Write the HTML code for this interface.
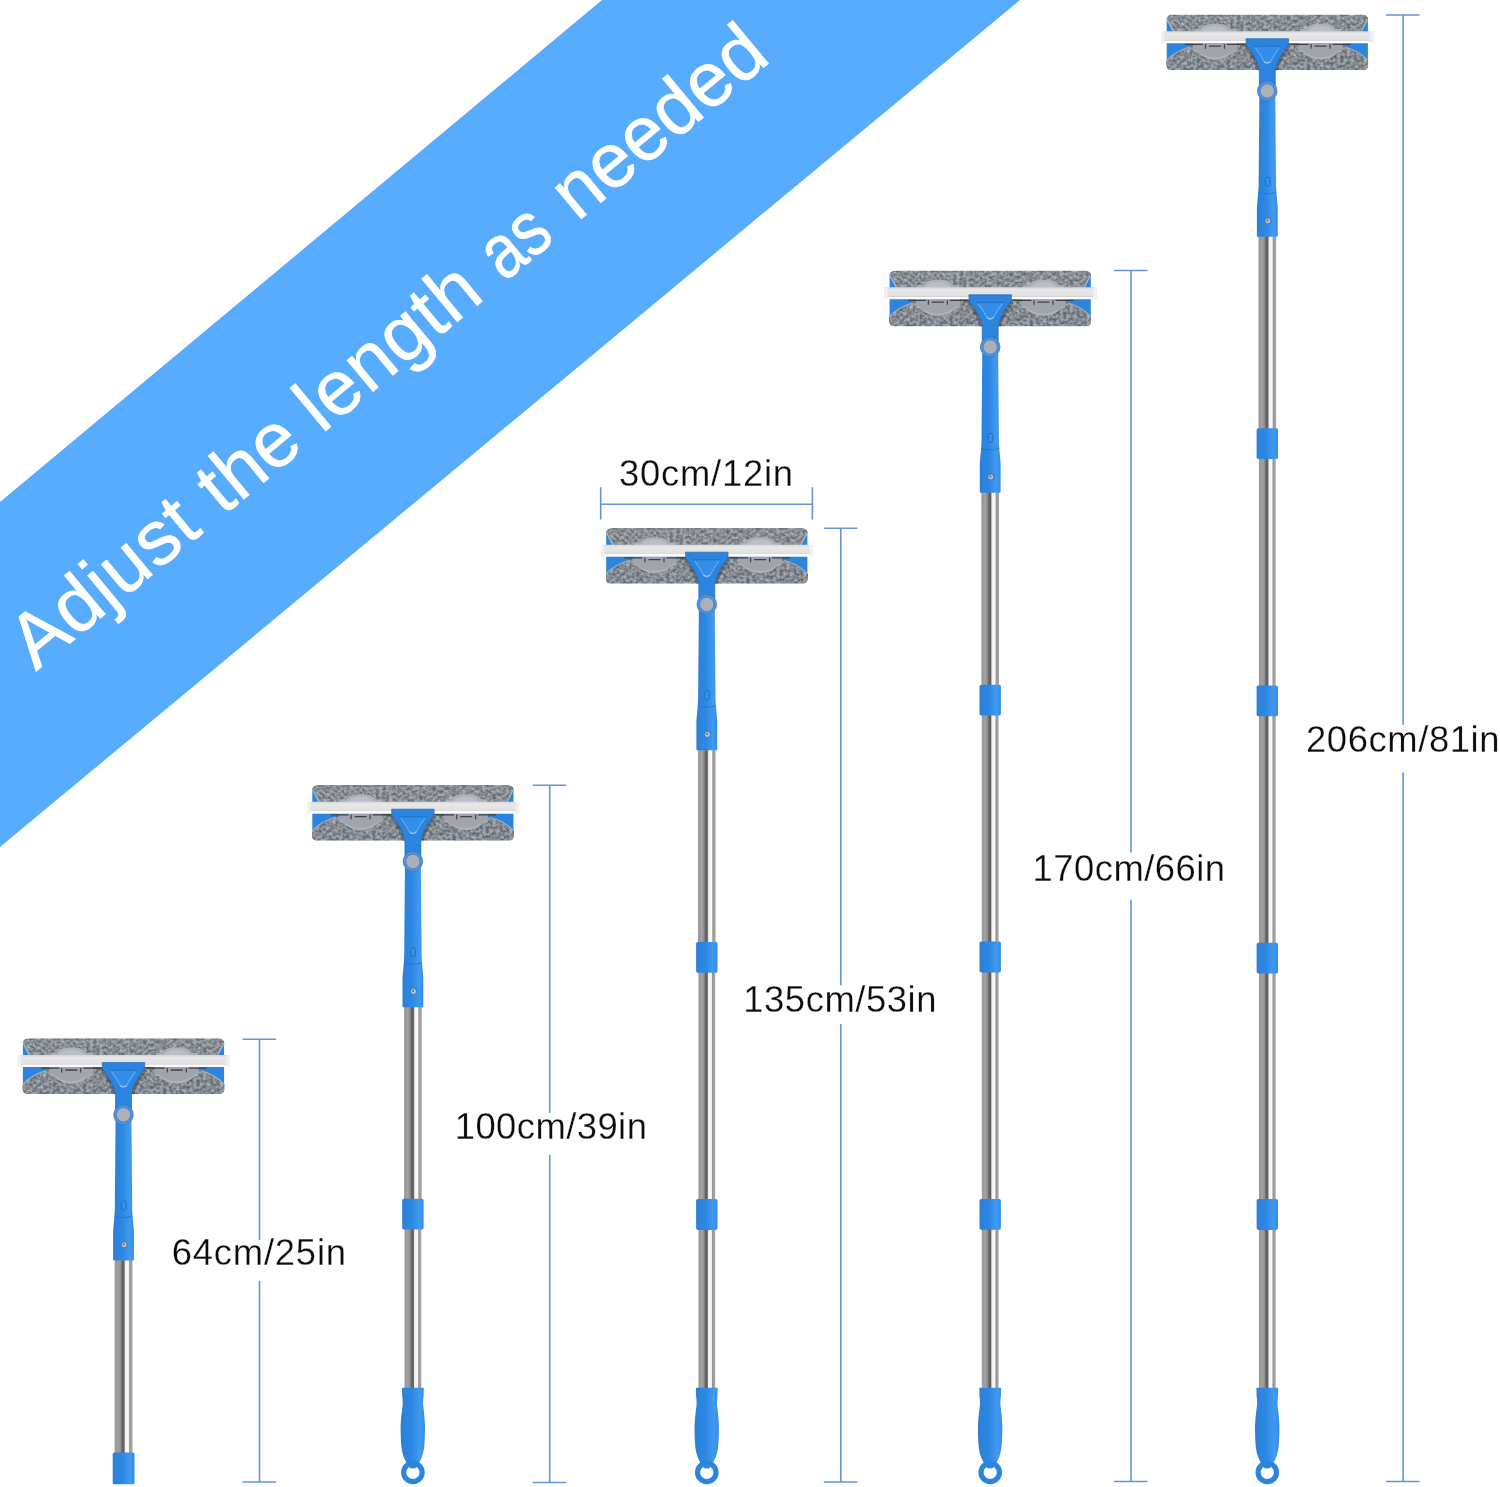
<!DOCTYPE html>
<html lang="en">
<head>
<meta charset="utf-8">
<title>Adjust the length as needed</title>
<style>
html,body{margin:0;padding:0;background:#fff;}
body{width:1500px;height:1487px;overflow:hidden;position:relative;}
svg{display:block;position:absolute;left:0;top:0;}
.lbl{font-family:"Liberation Sans","DejaVu Sans",sans-serif;font-size:36.4px;fill:#0c0c0c;stroke:#ffffff;stroke-width:0.28px;}
.ban{font-family:"Liberation Sans","DejaVu Sans",sans-serif;font-size:77px;fill:#ffffff;stroke:#ffffff;stroke-width:0.7px;}
.dl{stroke:#6595d5;stroke-width:1.6;fill:none;}
</style>
</head>
<body>
<svg width="1500" height="1487" viewBox="0 0 1500 1487">
<defs>
<linearGradient id="silver" x1="0" y1="0" x2="1" y2="0">
<stop offset="0" stop-color="#a2a2a2"/>
<stop offset="0.07" stop-color="#989898"/>
<stop offset="0.2" stop-color="#a3a3a3"/>
<stop offset="0.34" stop-color="#8e8e8e"/>
<stop offset="0.42" stop-color="#646464"/>
<stop offset="0.53" stop-color="#606060"/>
<stop offset="0.6" stop-color="#f0f0f0"/>
<stop offset="0.77" stop-color="#fbfbfb"/>
<stop offset="0.84" stop-color="#969696"/>
<stop offset="1" stop-color="#a9a9a9"/>
</linearGradient>
<linearGradient id="blueH" x1="0" y1="0" x2="1" y2="0">
<stop offset="0" stop-color="#2a80d8"/>
<stop offset="0.45" stop-color="#2d88e3"/>
<stop offset="0.8" stop-color="#429aee"/>
<stop offset="1" stop-color="#338be4"/>
</linearGradient>
<linearGradient id="blade" x1="0" y1="0" x2="0" y2="1">
<stop offset="0" stop-color="#d6d6d6"/>
<stop offset="0.2" stop-color="#e8e8e8"/>
<stop offset="0.72" stop-color="#e1e1e1"/>
<stop offset="0.76" stop-color="#cfcfcf"/>
<stop offset="0.82" stop-color="#fdfdfd"/>
<stop offset="1" stop-color="#f6f6f6"/>
</linearGradient>
<filter id="fiber" x="0" y="0" width="100%" height="100%" color-interpolation-filters="sRGB">
<feTurbulence type="fractalNoise" baseFrequency="0.3 0.33" numOctaves="3" seed="11" result="n"/>
<feColorMatrix in="n" type="matrix" values="1 0 0 0 0  1 0 0 0 0  1 0 0 0 0  0 0 0 0 1" result="g"/>
<feComposite in="SourceGraphic" in2="g" operator="arithmetic" k1="0" k2="1" k3="0.54" k4="-0.26" result="m"/>
<feComposite in="m" in2="SourceGraphic" operator="in"/>
</filter>

<g id="clip">
<path d="M-20.8,17.8 L-20.8,15.4 L-14.6,15.2 Q-12,10.4 -5,10 L5,10 Q12,10.4 14.6,15.2 L20.8,15.4 L20.8,17.8 Z" fill="#adb1b9"/>
<path d="M-13,17.5 Q-9.5,12.2 0,11.8 Q9.5,12.2 13,17.5 Z" fill="#babec6"/>
<path d="M-22,29.3 L22,29.3 L22,37.4 L17.5,38.4 Q10,45.6 0,45.6 Q-10,45.6 -17.5,38.4 L-22,37.4 Z" fill="#a0a4ad"/>
<path d="M-19.5,36 Q-10,43.4 0,43.4 Q10,43.4 19.5,36 L22,37.4 L17.5,38.4 Q10,45.6 0,45.6 Q-10,45.6 -17.5,38.4 L-22,37.4 Z" fill="#aeb2bb"/>
<path d="M-30,30.4 H-12 M12,30.4 H30 M-6,32.2 H6" stroke="#3c4047" stroke-width="1.3" fill="none"/>
<path d="M-9.5,30.2 V34.8 M9.5,30.2 V34.8" stroke="#454950" stroke-width="1.3" fill="none"/>
</g>

<g id="head">
<rect x="-100.6" y="3" width="201.2" height="51" rx="2" fill="#2c84dc"/>
<g filter="url(#fiber)">
<path d="M-95.6,0.8 L95.6,0.8 Q100.2,1.1 100.7,5 L94,18 L-94,18 L-100.7,5 Q-100.2,1.1 -95.6,0.8 Z" fill="#868b91"/>
<path d="M-100.9,46.5 Q-91,36.5 -77,32.6 L-70,29.6 L70,29.6 L77,32.6 Q91,36.5 100.9,46.5 L100.9,51.8 Q100.6,56 96.4,56.2 L-96.4,56.2 Q-100.6,56 -100.9,51.8 Z" fill="#83888e"/>
</g>
<path d="M-100.4,5.2 L-93.8,17.8 M100.4,5.2 L93.8,17.8" stroke="#aab4c2" stroke-width="1.4" fill="none"/>
<path d="M-100.7,46.3 Q-91,36.3 -77,32.8 M100.7,46.3 Q91,36.3 77,32.8" stroke="#9fb0c6" stroke-width="1.1" fill="none"/>
<path d="M-72,30.1 H72" stroke="#53575d" stroke-width="1.4" fill="none"/>
<use href="#clip" x="-52.3"/>
<use href="#clip" x="53.3"/>
<rect x="-105.9" y="17.3" width="212.2" height="12" rx="1.2" fill="url(#blade)"/>
<rect x="-105.9" y="17.3" width="3.2" height="12" rx="1" fill="#f1f1f1"/>
<rect x="103.1" y="17.3" width="3.2" height="12" rx="1" fill="#f1f1f1"/>
<path d="M-21,31 C-14.2,40 -9.7,47 -8,56.2 M21,31 C14.2,40 9.7,47 8,56.2" stroke="#1c222b" stroke-opacity="0.33" stroke-width="5.5" fill="none"/>
<path d="M-21.3,24.8 L21.3,24.8 L21,31 C14.2,40 9.7,47 8,57.3 L7.9,72 L-7.9,72 L-8,57.3 C-9.7,47 -14.2,40 -21,31 Z" fill="#2b84dd" stroke="#2468b4" stroke-width="0.7"/>
<path d="M-13.2,32.6 L13.2,32.6 Q7.4,40 3.6,47 Q0,50.8 -3.6,47 Q-7.4,40 -13.2,32.6 Z" fill="#348de6"/>
<path d="M-12.2,33.6 Q-7,40.4 -3.6,47 Q0,50.8 3.6,47 Q7,40.4 12.2,33.6" stroke="#5fabf5" stroke-width="1.2" fill="none"/>
<path d="M-3.4,47.6 Q0,50.6 3.4,47.6" stroke="#86c4fb" stroke-width="1.3" fill="none"/>
<path d="M-13.6,32.4 L13.6,32.4" stroke="#2273c6" stroke-width="1"/>
</g>

<g id="upper">
<path d="M-7.8,66 L7.8,66 L8.7,172 Q8.9,177 9.4,182 Q10,188 10.4,193 L10.4,221.8 Q10.4,222.8 9.4,222.8 L-9.4,222.8 Q-10.4,222.8 -10.4,221.8 L-10.4,193 Q-10,188 -9.4,182 Q-8.9,177 -8.7,172 Z" fill="url(#blueH)"/>
<path d="M-9,178.2 Q0,181.6 9,178.2" stroke="#2475cb" stroke-width="0.9" fill="none"/>
<rect x="-1.9" y="163.4" width="4.4" height="8.8" rx="1.8" fill="#3a90e8" stroke="#1f6cc0" stroke-width="0.9"/>
<circle cx="0.6" cy="207" r="3.1" fill="#bcc3cc" stroke="#2a6fb8" stroke-width="0.9"/>
<circle cx="0.2" cy="206.6" r="1.1" fill="#6a717c"/>
</g>

<g id="joint">
<circle cx="0" cy="77" r="9.8" fill="#4a96e6" stroke="#3a7dc8" stroke-width="0.8"/>
<circle cx="0" cy="77" r="7.3" fill="#aab0ba" stroke="#5f84b5" stroke-width="1.2"/>
</g>

<g id="connector">
<rect x="-10.7" y="0" width="21.4" height="30.8" rx="1.8" fill="url(#blueH)"/>
</g>

<g id="grip">
<path d="M-10.9,1388.6 Q-10.9,1387.8 -10,1387.8 L10,1387.8 Q10.9,1387.8 10.9,1388.6 L10.7,1396 Q10,1400 10.2,1405 Q12.2,1420 12.1,1430 Q12,1440 11.2,1448 Q10.4,1453 9,1457 Q7.2,1461.4 5.2,1464.6 Q3.8,1467.6 2,1468.2 L-2.2,1468.2 Q-4,1467.6 -5.4,1464.6 Q-7.4,1461.4 -9.2,1457 Q-10.6,1453 -11.4,1448 Q-12.2,1440 -12.3,1430 Q-12.4,1420 -10.2,1405 Q-10,1400 -10.7,1396 Z" fill="url(#blueH)"/>
<circle cx="0" cy="1472.4" r="9.2" fill="none" stroke="#2b84de" stroke-width="5.2"/>
<path d="M-5.4,1464.6 Q0,1469.8 5.2,1464.6 Q3.8,1467.6 2,1468.2 L-2.2,1468.2 Q-4,1467.6 -5.4,1464.6 Z" fill="#2f89e2"/>
</g>
</defs>

<rect x="0" y="0" width="1500" height="1487" fill="#ffffff"/>

<polygon points="0,502 602,0 1020,0 0,847" fill="#58acfd"/>
<g transform="translate(36.0,671.5) rotate(-39.7)">
<text class="ban" y="0"><tspan x="0" textLength="218.2" lengthAdjust="spacing">Adjust</tspan> <tspan x="243.0" textLength="107.6" lengthAdjust="spacing">the</tspan> <tspan x="371.5" textLength="213.5" lengthAdjust="spacing">length</tspan> <tspan x="609.0" textLength="67.5" lengthAdjust="spacingAndGlyphs">as</tspan> <tspan x="703.5" textLength="253.5" lengthAdjust="spacingAndGlyphs">needed</tspan></text>
</g>
<g style="opacity:0.999">
<path class="dl" d="M242.5,1039.3 H276.0 M242.5,1482.0 H276.0 M259.5,1039.3 V1240.0 M259.5,1280.7 V1482.0"/>
<text class="lbl" x="171.8" y="1264.7" textLength="174.2" lengthAdjust="spacing">64cm/25in</text>
<path class="dl" d="M532.7,785.2 H566.2 M532.7,1482.5 H566.2 M549.7,785.2 V1113.0 M549.7,1154.8 V1482.5"/>
<text class="lbl" x="454.7" y="1139.0" textLength="192.2" lengthAdjust="spacing">100cm/39in</text>
<path class="dl" d="M823.8,528.2 H857.3 M823.8,1482.0 H857.3 M840.8,528.2 V985.2 M840.8,1024.0 V1482.0"/>
<text class="lbl" x="743.2" y="1012.3" textLength="193.3" lengthAdjust="spacing">135cm/53in</text>
<path class="dl" d="M1114.0,270.5 H1147.5 M1114.0,1481.5 H1147.5 M1131.0,270.5 V852.6 M1131.0,900.0 V1481.5"/>
<text class="lbl" x="1032.5" y="880.9" textLength="192.6" lengthAdjust="spacing">170cm/66in</text>
<path class="dl" d="M1386.1,15.0 H1419.6 M1386.1,1481.5 H1419.6 M1403.1,15.0 V725.0 M1403.1,772.6 V1481.5"/>
<text class="lbl" x="1306.0" y="752.3" textLength="193.5" lengthAdjust="spacing">206cm/81in</text>
<path class="dl" d="M600.7,504.3 H812.4 M600.7,487.2 V519.5 M812.4,487.2 V519.5"/>
<text class="lbl" x="619.0" y="486.4" textLength="174.1" lengthAdjust="spacing">30cm/12in</text>
</g>
<g transform="translate(123.5,0)">
<rect x="-8.9" y="1259.3" width="17.9" height="194.70000000000005" fill="url(#silver)"/>
<rect x="-10.8" y="1452.6" width="21.8" height="31.6" rx="1.6" fill="url(#blueH)"/>
<use href="#upper" y="1037.8"/>
<use href="#head" y="1037.8"/>
<use href="#joint" y="1037.8"/>
</g>
<g transform="translate(412.9,0)">
<rect x="-8.85" y="1005.9" width="17.7" height="193.9" fill="url(#silver)"/>
<rect x="-8.4" y="1228.3" width="16.8" height="161.7" fill="url(#silver)"/>
<use href="#connector" y="1198.8"/>
<use href="#grip"/>
<use href="#upper" y="784.4"/>
<use href="#head" y="784.4"/>
<use href="#joint" y="784.4"/>
</g>
<g transform="translate(706.8,0)">
<rect x="-8.85" y="748.9" width="17.7" height="194.0" fill="url(#silver)"/>
<rect x="-8.4" y="971.4" width="16.8" height="228.7" fill="url(#silver)"/>
<rect x="-8.4" y="1228.6" width="16.8" height="161.4" fill="url(#silver)"/>
<use href="#connector" y="941.9"/>
<use href="#connector" y="1199.1"/>
<use href="#grip"/>
<use href="#upper" y="527.4"/>
<use href="#head" y="527.4"/>
<use href="#joint" y="527.4"/>
</g>
<g transform="translate(990.2,0)">
<rect x="-8.85" y="491.5" width="17.7" height="194.2" fill="url(#silver)"/>
<rect x="-8.4" y="714.2" width="16.8" height="228.4" fill="url(#silver)"/>
<rect x="-8.4" y="971.1" width="16.8" height="228.8" fill="url(#silver)"/>
<rect x="-8.4" y="1228.4" width="16.8" height="161.6" fill="url(#silver)"/>
<use href="#connector" y="684.7"/>
<use href="#connector" y="941.6"/>
<use href="#connector" y="1198.9"/>
<use href="#grip"/>
<use href="#upper" y="270.0"/>
<use href="#head" y="270.0"/>
<use href="#joint" y="270.0"/>
</g>
<g transform="translate(1267.3,0)">
<rect x="-8.85" y="235.4" width="17.7" height="193.9" fill="url(#silver)"/>
<rect x="-8.4" y="457.8" width="16.8" height="228.7" fill="url(#silver)"/>
<rect x="-8.4" y="715.0" width="16.8" height="228.7" fill="url(#silver)"/>
<rect x="-8.4" y="972.2" width="16.8" height="227.9" fill="url(#silver)"/>
<rect x="-8.4" y="1228.6" width="16.8" height="161.4" fill="url(#silver)"/>
<use href="#connector" y="428.3"/>
<use href="#connector" y="685.5"/>
<use href="#connector" y="942.7"/>
<use href="#connector" y="1199.1"/>
<use href="#grip"/>
<use href="#upper" y="13.9"/>
<use href="#head" y="13.9"/>
<use href="#joint" y="13.9"/>
</g>
</svg>
</body>
</html>
